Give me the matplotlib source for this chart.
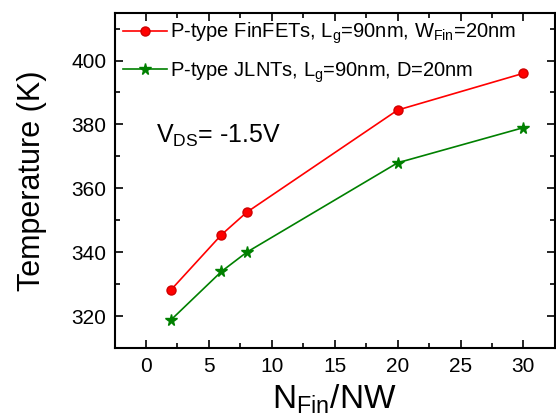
import matplotlib
matplotlib.use("Agg")
import matplotlib.pyplot as plt
from matplotlib.ticker import MultipleLocator

plt.rcParams['font.family'] = ['Liberation Sans', 'DejaVu Sans']
plt.rcParams['mathtext.fontset'] = 'custom'
plt.rcParams['mathtext.rm'] = 'Liberation Sans'
plt.rcParams['mathtext.it'] = 'Liberation Sans'

n_fin = [2, 6, 8, 20, 30]
temp_finfet = [328.3, 345.5, 352.5, 384.5, 396.0]
temp_jlnt = [318.9, 334.0, 340.0, 368.0, 379.0]

fig = plt.figure(figsize=(5.56, 4.19), dpi=100)
ax = fig.add_axes([0.206, 0.169, 0.792, 0.801])

ax.plot(n_fin, temp_finfet, color='red', marker='o', markersize=6.5, lw=1.2,
        markerfacecolor='red', markeredgecolor='#d00000',
        label=r'P-type FinFETs, L$_\mathrm{g}$=90nm, W$_\mathrm{Fin}$=20nm')
ax.plot(n_fin, temp_jlnt, color='green', marker='*', markersize=8.5, lw=1.2,
        label=r'P-type JLNTs, L$_\mathrm{g}$=90nm, D=20nm')

ax.set_xlim(-2.5, 32.5)
ax.set_ylim(310, 415)
ax.xaxis.set_major_locator(MultipleLocator(5))
ax.xaxis.set_minor_locator(MultipleLocator(2.5))
ax.yaxis.set_major_locator(MultipleLocator(20))
ax.yaxis.set_minor_locator(MultipleLocator(10))
ax.tick_params(which='both', direction='in', top=True, right=True, width=1.2)
ax.tick_params(which='major', length=6, labelsize=15, pad=6)
ax.tick_params(which='minor', length=3.5)
for s in ax.spines.values():
    s.set_linewidth(1.5)

ax.set_xlabel(r'N$_\mathrm{Fin}$/NW', fontsize=24, labelpad=5)
ax.set_ylabel('Temperature (K)', fontsize=22, labelpad=17)

ax.text(0.8, 374.3, r'V$_\mathrm{DS}$= -1.5V', fontsize=18)

ax.legend(loc='upper left', frameon=False, fontsize=14.5, handlelength=2.2,
          handletextpad=0.15, borderaxespad=0.3, labelspacing=0.7,
          borderpad=0.1)

fig.savefig('out.png', dpi=100)
